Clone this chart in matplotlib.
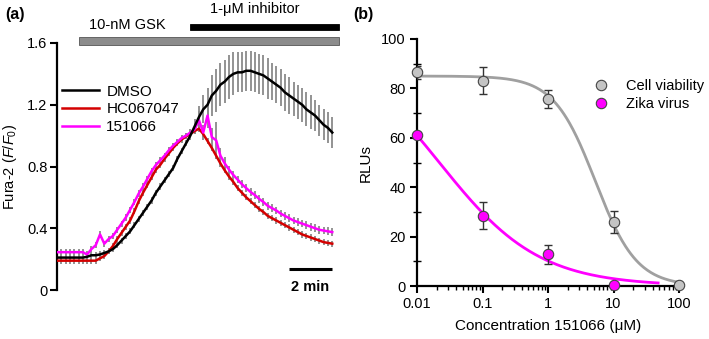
import numpy as np
import matplotlib
matplotlib.use("Agg")
import matplotlib.pyplot as plt
from matplotlib.patches import Rectangle
from matplotlib.ticker import FixedLocator, FuncFormatter, LogLocator, NullFormatter

plt.rcParams['font.family'] = ['Liberation Sans', 'DejaVu Sans']
plt.rcParams['mathtext.fontset'] = 'custom'
plt.rcParams['mathtext.rm'] = 'Liberation Sans'
plt.rcParams['mathtext.it'] = 'Liberation Sans:italic'
plt.rcParams['font.size'] = 10.5

# ---------------------------------------------------------------------------
# (a) Fura-2 ratio traces, one sample every 0.2 min
time_min = np.round(np.arange(0, 12.81, 0.2), 2)

dmso = [0.21, 0.21, 0.21, 0.21, 0.21, 0.21, 0.21, 0.215, 0.225, 0.225,
        0.23, 0.24, 0.25, 0.265, 0.29, 0.32, 0.35, 0.38, 0.42, 0.46,
        0.50, 0.54, 0.58, 0.63, 0.67, 0.71, 0.75, 0.79, 0.85, 0.90,
        0.95, 1.00, 1.06, 1.12, 1.17, 1.20, 1.26, 1.29, 1.33, 1.35,
        1.38, 1.40, 1.41, 1.41, 1.42, 1.42, 1.41, 1.40, 1.39, 1.37,
        1.35, 1.33, 1.31, 1.28, 1.26, 1.24, 1.22, 1.20, 1.17, 1.15,
        1.13, 1.10, 1.07, 1.05, 1.02]
dmso_sem = [0.015] * 8 + [0.02] * 23 + [0.03, 0.05, 0.07, 0.09, 0.11, 0.13,
            0.14, 0.14, 0.14, 0.14, 0.14, 0.13, 0.13, 0.13, 0.13, 0.13,
            0.13, 0.13, 0.13, 0.12, 0.12, 0.12, 0.12, 0.12, 0.11, 0.11,
            0.11, 0.11, 0.11, 0.10, 0.10, 0.10, 0.10, 0.10]

hc067047 = [0.19, 0.19, 0.19, 0.19, 0.19, 0.19, 0.19, 0.19, 0.19, 0.19,
            0.205, 0.22, 0.25, 0.285, 0.33, 0.37, 0.41, 0.45, 0.51, 0.575,
            0.63, 0.68, 0.73, 0.78, 0.81, 0.85, 0.885, 0.92, 0.95, 0.975,
            0.995, 1.01, 1.03, 1.045, 1.01, 0.965, 0.92, 0.87, 0.82, 0.775,
            0.735, 0.70, 0.66, 0.63, 0.60, 0.575, 0.55, 0.525, 0.505, 0.48,
            0.465, 0.45, 0.435, 0.42, 0.405, 0.39, 0.375, 0.36, 0.35, 0.34,
            0.33, 0.32, 0.31, 0.305, 0.30]
hc067047_sem = [0.02] * 65

cmpd_151066 = [0.245, 0.245, 0.245, 0.245, 0.245, 0.245, 0.245, 0.23, 0.265, 0.29,
               0.36, 0.30, 0.33, 0.35, 0.39, 0.43, 0.47, 0.52, 0.57, 0.625,
               0.67, 0.72, 0.77, 0.81, 0.84, 0.87, 0.905, 0.935, 0.96, 0.985,
               1.00, 1.02, 1.04, 1.10, 1.02, 1.13, 0.99, 0.97, 0.87, 0.82,
               0.78, 0.745, 0.715, 0.685, 0.66, 0.635, 0.615, 0.59, 0.57, 0.545,
               0.53, 0.515, 0.495, 0.48, 0.465, 0.45, 0.44, 0.43, 0.42, 0.41,
               0.40, 0.39, 0.385, 0.38, 0.375]
cmpd_151066_sem = ([0.02] * 32 + [0.03, 0.06, 0.05, 0.08, 0.06, 0.12, 0.05, 0.04]
                   + [0.025] * 25)

# drug application periods (min)
gsk_on, inhibitor_on, perfusion_end = 1.0, 6.2, 13.1

# ---------------------------------------------------------------------------
# (b) concentration response
conc = [0.01, 0.1, 1, 10, 100]
viability = [86.5, 83.1, 75.6, 25.8, 0.5]
viability_err = [2.5, 5.4, 3.7, 4.5, 0.5]
zika = [61.3, 28.5, 12.8, 0.3]
zika_err = [1.0, 5.6, 3.7, 0.3]

# Hill fits: top, IC50, slope
viability_fit = (85.0, 5.27, 1.37)
zika_fit = (100.0, 0.0219, 0.57)


def hill(x, top, ic50, n):
    return top / (1 + (x / ic50) ** n)


fig = plt.figure(figsize=(7.09, 3.39), dpi=100)
ax1 = fig.add_axes([57 / 709, 49 / 339, 283 / 709, 247 / 339])
ax2 = fig.add_axes([417 / 709, 53 / 339, 262 / 709, 247 / 339])

# ---- panel a
traces = [(hc067047, hc067047_sem, '#d40000', 'HC067047'),
          (cmpd_151066, cmpd_151066_sem, '#ff00ff', '151066'),
          (dmso, dmso_sem, 'black', 'DMSO')]
for vals, sem, col, lab in traces:
    vals = np.array(vals)
    sem = np.array(sem)
    ax1.vlines(time_min, vals - sem, vals + sem, color='#8a8a8a', lw=1.3, zorder=1)
lines = {}
for vals, sem, col, lab in traces:
    lines[lab], = ax1.plot(time_min, vals, color=col, lw=1.8, zorder=3)

ax1.set_xlim(0, 13.16)
ax1.set_ylim(0, 1.6)
ax1.yaxis.set_major_locator(FixedLocator([0, 0.4, 0.8, 1.2, 1.6]))
ax1.yaxis.set_major_formatter(FuncFormatter(lambda v, p: f'{v:g}'))
ax1.set_xticks([])
for s in ['top', 'right', 'bottom']:
    ax1.spines[s].set_visible(False)
ax1.spines['left'].set_linewidth(1.6)
ax1.tick_params(axis='y', direction='out', length=5, width=1.5, pad=2)
ax1.set_ylabel('Fura-2 ($\\it{F/F}_0$)', labelpad=6)

ax1.legend([lines['DMSO'], lines['HC067047'], lines['151066']],
           ['DMSO', 'HC067047', '151066'], loc='upper left',
           bbox_to_anchor=(-0.02, 0.875), frameon=False, handlelength=2.4,
           handletextpad=0.5, labelspacing=0.25, borderaxespad=0.3,
           fontsize=11)

# perfusion bars above the traces
ax1.add_patch(Rectangle((gsk_on, 1.587), perfusion_end - gsk_on, 0.052,
                        facecolor='#8c8c8c', edgecolor='#555555', lw=0.6,
                        clip_on=False))
ax1.add_patch(Rectangle((inhibitor_on, 1.684), perfusion_end - inhibitor_on, 0.04,
                        facecolor='black', edgecolor='black', lw=0.6,
                        clip_on=False))
ax1.text(3.26, 1.716, '10-nM GSK', ha='center', va='center', fontsize=10.5)
ax1.text(9.2, 1.82, '1-μM inhibitor', ha='center', va='center', fontsize=10.5)

# 2 min scale bar
ax1.plot([10.79, 12.79], [0.135, 0.135], color='black', lw=2.2, solid_capstyle='butt')
ax1.text(11.79, 0.02, '2 min', ha='center', va='center', fontweight='bold',
         fontsize=10.5)

# ---- panel b
xs = np.logspace(-2, 2, 300)
ax2.plot(xs, hill(xs, *viability_fit), color='#a0a0a0', lw=2.0, zorder=2)
xz = np.logspace(-2, np.log10(48), 300)
ax2.plot(xz, hill(xz, *zika_fit), color='#ff00ff', lw=2.0, zorder=2)

ax2.errorbar(conc, viability, yerr=viability_err, fmt='none', ecolor='#333333',
             elinewidth=1.0, capsize=3, capthick=1.0, zorder=3)
ax2.errorbar(conc[:4], zika, yerr=zika_err, fmt='none', ecolor='#333333',
             elinewidth=1.0, capsize=3, capthick=1.0, zorder=3)
pv, = ax2.plot(conc, viability, 'o', ms=7.5, mfc='#c4c4c4', mec='#444444',
               mew=0.8, zorder=4, clip_on=False)
pz, = ax2.plot(conc[:4], zika, 'o', ms=7.5, mfc='#ff00ff', mec='#444444',
               mew=0.8, zorder=4, clip_on=False)

ax2.set_xscale('log')
ax2.set_xlim(0.01, 100)
ax2.set_ylim(0, 100)
ax2.set_xticks(conc)
ax2.xaxis.set_major_formatter(FuncFormatter(lambda v, p: f'{v:g}'))
ax2.xaxis.set_minor_locator(LogLocator(base=10, subs=np.arange(2, 10)))
ax2.xaxis.set_minor_formatter(NullFormatter())
ax2.yaxis.set_major_locator(FixedLocator([0, 20, 40, 60, 80, 100]))
ax2.yaxis.set_minor_locator(FixedLocator([10, 30, 50, 70, 90]))
for s in ['top', 'right']:
    ax2.spines[s].set_visible(False)
for s in ['left', 'bottom']:
    ax2.spines[s].set_linewidth(1.6)
ax2.tick_params(which='major', direction='out', length=5, width=1.5, pad=3)
ax2.tick_params(axis='x', which='minor', direction='out', length=3, width=1.0)
ax2.tick_params(axis='y', which='minor', direction='inout', length=6, width=1.0)
ax2.set_xlabel('Concentration 151066 (μM)', fontsize=11, labelpad=6)
ax2.set_ylabel('RLUs', fontsize=11, labelpad=6)

ax2.legend([pv, pz], ['Cell viability', 'Zika virus'], loc='upper left',
           bbox_to_anchor=(0.652, 0.86), frameon=False, handlelength=1.0,
           handletextpad=1.2, labelspacing=0.25, fontsize=10.5,
           borderaxespad=0.0)

fig.text(5 / 709, 1 - 14 / 339, '(a)', fontweight='bold', fontsize=11.5, va='center')
fig.text(353 / 709, 1 - 14 / 339, '(b)', fontweight='bold', fontsize=11.5, va='center')

fig.savefig('out.png', dpi=100)
